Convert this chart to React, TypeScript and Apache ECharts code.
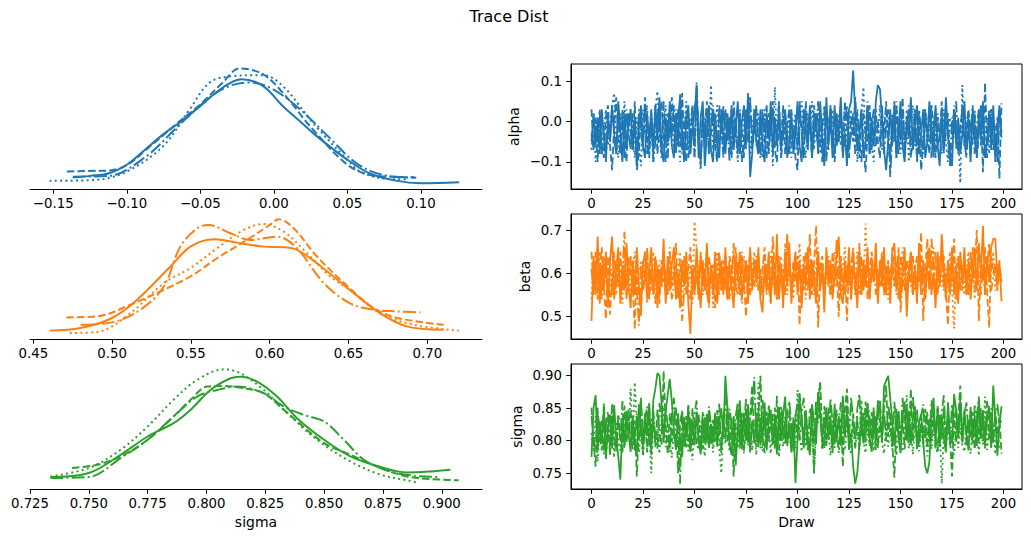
import React, { useEffect, useRef } from "react";
import * as echarts from "echarts";

// ---------- KDE curves: [value, density] ----------
const alphaKde0 = [[-0.1367,0.91],[-0.125,1.05],[-0.112,1.26],[-0.10,1.94],[-0.088,3.1],[-0.0755,4.35],[-0.062,5.5],[-0.05,6.64],[-0.0347,8.12],[-0.0222,8.79],[-0.0075,8.25],[0.006,6.64],[0.016,5.6],[0.0265,4.49],[0.038,3.4],[0.05,2.34],[0.065,1.26],[0.083,0.67],[0.10,0.46],[0.126,0.54]];
const alphaKde1 = [[-0.1407,1.40],[-0.12,1.46],[-0.112,1.48],[-0.10,1.9],[-0.0868,3.15],[-0.064,5.43],[-0.05,6.77],[-0.0347,8.52],[-0.0233,9.65],[-0.0075,9.19],[0.006,7.71],[0.0265,4.76],[0.05,1.94],[0.065,1.13],[0.0786,0.99],[0.0956,0.94]];
const alphaKde2 = [[-0.1525,0.65],[-0.121,0.73],[-0.10,1.40],[-0.0755,3.41],[-0.0573,6.37],[-0.0437,8.52],[-0.030,9.0],[-0.0075,9.11],[0.006,8.25],[0.0265,5.30],[0.05,2.34],[0.0607,1.26],[0.083,0.78],[0.092,0.78]];
const alphaKde3 = [[-0.1367,0.99],[-0.112,1.05],[-0.0868,2.61],[-0.064,5.16],[-0.0437,7.31],[-0.030,8.25],[-0.0165,8.52],[-0.0029,8.12],[0.0152,6.64],[0.0379,4.09],[0.056,2.07],[0.074,1.13],[0.0968,0.91]];

const betaKde0 = [[0.4605,0.67],[0.4799,0.88],[0.50,1.68],[0.5159,3.14],[0.537,5.80],[0.5497,7.39],[0.5645,7.98],[0.5793,7.71],[0.5962,7.39],[0.6089,7.34],[0.6173,7.13],[0.630,6.06],[0.6507,3.94],[0.670,2.07],[0.687,1.01],[0.7104,0.74]];
const betaKde1 = [[0.471,1.73],[0.4905,1.81],[0.5116,2.74],[0.5328,3.94],[0.5497,5.0],[0.5666,6.46],[0.5856,7.93],[0.60,9.12],[0.6057,9.58],[0.6152,8.86],[0.630,6.60],[0.6507,4.07],[0.666,2.47],[0.6808,1.68],[0.7104,1.14]];
const betaKde2 = [[0.4732,0.48],[0.4905,0.56],[0.5116,2.07],[0.5328,4.47],[0.5497,5.67],[0.5666,7.26],[0.5835,8.72],[0.5962,9.20],[0.6089,8.59],[0.6216,7.13],[0.6385,5.0],[0.6507,3.94],[0.670,2.07],[0.6913,1.14],[0.7199,0.67]];
const betaKde3 = [[0.48,1.14],[0.50,1.33],[0.518,2.34],[0.5328,4.20],[0.5433,7.39],[0.554,8.86],[0.5613,9.12],[0.575,8.46],[0.5877,7.93],[0.6047,8.19],[0.6173,7.26],[0.6343,4.47],[0.6507,2.87],[0.666,2.34],[0.6808,2.21],[0.6956,2.13]];

const sigmaKde0 = [[0.7337,1.34],[0.75,1.79],[0.7635,3.83],[0.775,5.88],[0.786,7.37],[0.7932,8.86],[0.8017,11.09],[0.8102,12.40],[0.8144,12.58],[0.8215,12.03],[0.830,10.35],[0.8385,7.93],[0.85,5.51],[0.8612,3.65],[0.874,2.46],[0.8853,1.86],[0.8952,1.97],[0.9037,2.16]];
const sigmaKde1 = [[0.7429,2.35],[0.7536,2.72],[0.7635,3.65],[0.775,5.51],[0.786,8.12],[0.7932,9.98],[0.8003,11.47],[0.8074,11.54],[0.8159,11.28],[0.8244,10.72],[0.8329,8.86],[0.85,5.14],[0.8612,3.83],[0.874,2.35],[0.8853,1.41],[0.8952,1.12],[0.9072,0.97]];
const sigmaKde2 = [[0.7337,1.41],[0.75,2.35],[0.7635,4.39],[0.775,7.0],[0.786,9.98],[0.796,12.21],[0.8074,13.40],[0.8144,12.96],[0.8244,11.09],[0.8329,8.86],[0.847,5.51],[0.8612,3.09],[0.874,1.60],[0.8853,0.97],[0.8902,0.67]];
const sigmaKde3 = [[0.7337,1.23],[0.75,1.34],[0.7635,3.46],[0.775,5.51],[0.786,8.12],[0.796,10.35],[0.8045,11.09],[0.813,11.47],[0.8244,10.72],[0.8329,9.23],[0.8414,8.30],[0.85,7.56],[0.8584,5.51],[0.8669,3.28],[0.8782,1.97],[0.8881,1.49],[0.8987,1.34]];

// ---------- Trace values (draws 0..199) ----------
const alphaChain0 = [
-0.05,0.02,-0.06,0.01,-0.08,0.03,-0.04,-0.09,0.00,-0.05,0.04,-0.03,-0.08,0.05,-0.02,-0.10,0.02,-0.06,-0.01,0.03,
-0.07,0.01,-0.11,-0.02,0.04,-0.06,-0.09,0.02,-0.05,0.03,-0.08,0.04,-0.04,0.06,-0.07,-0.10,0.01,-0.05,0.05,-0.06,
-0.09,0.02,-0.06,0.06,-0.03,-0.10,0.00,0.04,-0.08,-0.02,0.03,0.07,-0.09,0.01,0.05,-0.11,-0.03,0.04,-0.07,-0.10,
0.02,-0.06,-0.09,0.03,-0.04,-0.08,0.02,-0.05,0.04,-0.07,-0.01,0.05,-0.08,0.00,0.04,-0.06,0.07,-0.137,-0.08,0.03,
-0.05,-0.08,0.03,-0.06,-0.10,0.02,-0.04,0.05,-0.08,0.01,-0.06,0.04,-0.07,-0.02,0.03,-0.09,-0.05,0.02,-0.08,-0.03,
0.05,-0.06,-0.10,0.03,-0.02,-0.07,0.04,-0.09,-0.03,0.02,-0.08,0.05,-0.04,-0.11,0.06,-0.05,0.01,-0.09,0.04,-0.06,
-0.02,0.06,-0.08,-0.03,-0.11,0.03,0.05,0.126,0.02,-0.07,-0.03,0.03,-0.09,-0.05,0.04,-0.08,0.01,-0.06,0.05,0.09,
0.08,0.01,-0.07,-0.12,-0.05,0.03,-0.06,0.04,-0.09,-0.02,0.05,-0.06,-0.10,0.01,-0.04,0.06,-0.07,-0.02,0.04,-0.08,
-0.03,0.03,-0.09,-0.05,0.05,-0.02,-0.08,0.04,-0.06,-0.11,0.02,-0.07,0.06,-0.03,-0.09,-0.11,0.03,-0.06,0.01,-0.08,
-0.03,0.05,-0.07,-0.01,-0.10,0.03,-0.05,-0.08,0.02,-0.04,0.05,-0.09,-0.05,0.02,-0.07,0.04,-0.10,-0.02,0.04,-0.03];
const alphaChain1 = [
0.03,-0.07,-0.01,-0.10,0.02,-0.05,-0.09,0.01,0.04,-0.06,-0.12,-0.01,0.06,-0.04,-0.08,0.03,-0.05,-0.10,0.02,-0.03,
-0.07,0.05,-0.12,-0.08,0.02,-0.05,0.06,-0.03,-0.09,0.01,-0.06,0.04,-0.08,-0.01,0.05,-0.05,-0.10,0.02,-0.04,0.06,
-0.02,-0.08,0.03,-0.06,0.07,-0.05,-0.10,0.02,-0.04,0.04,-0.09,0.09,-0.05,-0.11,0.03,-0.02,0.05,-0.08,-0.03,0.02,
-0.06,-0.10,0.04,-0.02,-0.08,0.03,-0.05,0.01,-0.09,0.05,-0.03,-0.07,0.02,-0.10,-0.04,0.03,-0.01,0.06,-0.06,-0.03,
0.04,-0.08,-0.02,0.03,-0.05,-0.09,0.02,-0.03,0.05,-0.07,-0.10,0.01,-0.05,0.04,-0.08,-0.01,0.03,-0.06,-0.02,-0.09,
-0.12,0.05,-0.03,-0.08,0.05,-0.04,0.01,-0.09,0.04,-0.02,-0.06,0.03,-0.10,-0.03,0.02,-0.07,0.04,-0.05,-0.10,0.01,
-0.05,0.03,-0.08,0.05,-0.02,-0.09,0.01,-0.05,0.06,-0.03,-0.09,0.02,-0.06,-0.125,-0.03,0.04,-0.07,-0.01,0.03,-0.05,
-0.09,0.02,-0.03,0.05,-0.06,-0.10,0.01,-0.05,0.04,-0.08,-0.02,0.06,-0.06,-0.03,0.02,-0.09,-0.04,0.03,-0.10,-0.01,
-0.12,-0.06,0.03,-0.03,-0.08,0.04,-0.01,-0.09,0.01,-0.05,0.05,-0.07,-0.02,0.02,-0.11,-0.06,0.03,-0.02,-0.08,-0.03,
0.04,-0.06,-0.01,0.03,-0.08,-0.04,0.02,-0.09,-0.03,0.04,-0.125,0.096,-0.06,-0.01,0.03,-0.07,-0.04,0.01,-0.141,0.045];
const alphaChain2 = [
-0.07,0.02,-0.10,-0.04,0.01,-0.08,-0.02,0.03,-0.06,-0.01,0.04,0.07,-0.05,-0.09,0.02,-0.03,0.05,-0.07,-0.01,0.03,
-0.05,-0.09,0.01,-0.06,-0.11,0.03,-0.03,0.04,-0.08,-0.01,-0.10,0.03,0.075,-0.04,-0.09,0.00,0.04,-0.06,-0.02,0.02,
-0.08,0.03,-0.04,-0.10,0.02,-0.03,0.05,-0.07,-0.01,0.04,-0.09,0.05,-0.03,-0.12,0.02,-0.06,0.03,-0.04,0.09,-0.07,
-0.03,0.04,-0.06,-0.01,-0.09,0.03,-0.04,0.01,-0.08,0.02,-0.03,-0.10,0.03,-0.05,0.01,-0.07,0.04,-0.09,-0.02,0.03,
-0.06,0.02,-0.05,-0.09,0.03,-0.03,-0.08,0.02,-0.11,0.085,-0.04,0.01,-0.08,0.03,-0.03,-0.06,0.04,-0.09,-0.01,0.02,
-0.08,0.03,0.05,-0.05,-0.09,0.02,-0.03,0.05,-0.07,-0.01,0.03,-0.08,-0.04,0.04,-0.10,0.01,-0.03,0.03,-0.08,-0.02,
0.02,-0.06,-0.02,0.04,-0.09,-0.01,0.03,-0.05,0.06,-0.10,-0.03,0.02,0.085,-0.07,-0.04,0.03,-0.06,-0.10,0.01,-0.03,
0.04,-0.07,-0.01,0.03,-0.06,-0.09,0.02,-0.04,0.05,-0.03,-0.08,0.01,-0.05,0.03,-0.10,-0.02,0.04,-0.06,-0.03,0.02,
-0.08,-0.03,0.03,-0.06,-0.01,0.04,-0.09,-0.04,0.02,-0.03,-0.08,0.03,-0.05,-0.10,0.01,-0.03,0.04,-0.07,-0.02,-0.152,
0.09,-0.06,-0.02,0.02,-0.08,-0.04,0.03,-0.09,-0.01,0.04,-0.06,-0.03,0.01,-0.08,0.03,-0.05,-0.01,-0.09,0.02,-0.03];
const alphaChain3 = [
-0.03,-0.07,0.01,-0.05,0.03,-0.08,-0.01,-0.10,0.02,-0.05,0.04,-0.03,-0.08,0.02,-0.06,0.01,-0.09,0.03,-0.03,-0.07,
0.02,-0.05,-0.09,0.03,-0.02,-0.07,0.04,-0.08,-0.03,0.02,-0.10,-0.05,0.03,-0.01,-0.08,0.05,-0.04,-0.09,0.02,-0.03,
0.04,-0.06,-0.01,0.07,-0.08,-0.03,0.03,-0.09,-0.05,0.02,-0.06,0.097,-0.03,-0.10,0.01,-0.05,0.03,-0.08,-0.01,0.04,
-0.05,-0.09,0.02,-0.03,0.04,-0.07,-0.01,-0.10,0.03,-0.05,0.01,-0.08,0.02,-0.03,-0.09,0.03,-0.05,0.05,-0.07,-0.01,
0.03,-0.05,-0.09,0.02,-0.03,0.04,-0.08,-0.01,0.03,-0.06,-0.03,0.05,-0.09,-0.04,0.02,-0.03,-0.08,0.03,-0.05,0.01,
-0.07,0.04,-0.03,-0.09,0.02,-0.05,0.03,-0.08,0.01,-0.03,0.05,-0.06,-0.01,0.03,-0.09,-0.04,0.04,-0.03,-0.08,0.02,
-0.05,0.03,-0.09,-0.01,0.04,-0.07,-0.03,0.02,-0.08,0.03,-0.05,-0.10,0.02,-0.03,0.05,-0.08,-0.01,0.03,-0.06,0.00,
-0.05,0.04,-0.08,-0.01,0.03,-0.137,-0.03,0.05,-0.09,0.01,-0.05,0.03,-0.08,-0.02,0.04,-0.06,-0.03,0.02,-0.09,0.03,
-0.03,-0.08,0.02,-0.05,0.04,-0.09,-0.01,0.03,-0.06,-0.03,0.02,-0.08,0.04,-0.05,-0.10,0.01,-0.03,0.05,-0.07,-0.01,
0.03,-0.05,-0.09,0.02,-0.03,0.04,-0.08,-0.01,0.03,-0.06,0.01,-0.05,-0.09,0.03,-0.03,0.02,-0.06,-0.10,0.01,-0.04];

const betaChain0 = [
0.49,0.64,0.55,0.685,0.53,0.62,0.56,0.65,0.52,0.63,0.685,0.54,0.61,0.66,0.53,0.62,0.56,0.67,0.57,0.52,
0.63,0.55,0.66,0.57,0.52,0.62,0.65,0.54,0.60,0.66,0.55,0.63,0.52,0.61,0.57,0.68,0.53,0.64,0.56,0.62,
0.66,0.54,0.60,0.52,0.63,0.57,0.65,0.53,0.46,0.61,0.55,0.66,0.58,0.52,0.63,0.56,0.67,0.54,0.62,0.55,
0.65,0.53,0.60,0.63,0.55,0.66,0.54,0.62,0.57,0.52,0.64,0.58,0.65,0.54,0.59,0.63,0.53,0.66,0.56,0.63,
0.58,0.66,0.54,0.51,0.62,0.56,0.65,0.53,0.63,0.55,0.69,0.54,0.62,0.52,0.65,0.57,0.67,0.53,0.60,0.65,
0.55,0.63,0.52,0.62,0.57,0.66,0.54,0.63,0.59,0.53,0.65,0.56,0.62,0.51,0.66,0.57,0.63,0.54,0.60,0.64,
0.685,0.55,0.53,0.63,0.57,0.66,0.54,0.62,0.59,0.52,0.65,0.55,0.63,0.57,0.66,0.54,0.62,0.58,0.67,0.53,
0.63,0.57,0.66,0.55,0.62,0.53,0.65,0.67,0.56,0.63,0.54,0.61,0.66,0.50,0.60,0.65,0.55,0.62,0.53,0.67,
0.57,0.63,0.54,0.62,0.66,0.55,0.60,0.52,0.65,0.57,0.69,0.61,0.54,0.63,0.56,0.66,0.55,0.62,0.53,0.65,
0.58,0.66,0.55,0.63,0.54,0.62,0.66,0.56,0.67,0.60,0.71,0.55,0.64,0.58,0.66,0.68,0.68,0.59,0.63,0.535];
const betaChain1 = [
0.65,0.56,0.63,0.54,0.61,0.66,0.57,0.495,0.64,0.505,0.60,0.55,0.63,0.57,0.65,0.56,0.62,0.54,0.64,0.60,
0.57,0.471,0.62,0.55,0.50,0.63,0.58,0.65,0.54,0.61,0.56,0.64,0.60,0.53,0.63,0.58,0.61,0.55,0.65,0.57,
0.60,0.67,0.54,0.63,0.58,0.64,0.55,0.61,0.66,0.56,0.62,0.60,0.54,0.65,0.58,0.61,0.55,0.64,0.60,0.62,
0.52,0.61,0.65,0.56,0.63,0.58,0.54,0.64,0.61,0.56,0.66,0.60,0.55,0.62,0.58,0.50,0.61,0.65,0.57,0.63,
0.58,0.64,0.55,0.61,0.66,0.57,0.63,0.56,0.685,0.60,0.54,0.64,0.58,0.61,0.55,0.68,0.60,0.56,0.63,0.58,
0.64,0.48,0.61,0.56,0.65,0.60,0.69,0.55,0.62,0.71,0.475,0.61,0.64,0.56,0.60,0.63,0.55,0.65,0.58,0.61,
0.50,0.64,0.56,0.61,0.49,0.63,0.58,0.65,0.55,0.61,0.60,0.64,0.56,0.62,0.54,0.61,0.65,0.58,0.63,0.56,
0.61,0.64,0.55,0.60,0.63,0.56,0.66,0.58,0.61,0.54,0.64,0.60,0.56,0.63,0.58,0.65,0.55,0.61,0.64,0.58,
0.695,0.49,0.61,0.68,0.56,0.63,0.58,0.65,0.55,0.61,0.60,0.64,0.56,0.48,0.62,0.58,0.68,0.54,0.61,0.64,
0.56,0.63,0.60,0.55,0.65,0.58,0.61,0.70,0.49,0.63,0.58,0.66,0.56,0.475,0.64,0.60,0.62,0.56,0.61,0.58];
const betaChain2 = [
0.54,0.63,0.57,0.61,0.65,0.55,0.62,0.59,0.54,0.64,0.57,0.61,0.55,0.63,0.60,0.53,0.66,0.57,0.62,0.55,
0.61,0.65,0.54,0.60,0.63,0.56,0.62,0.53,0.61,0.56,0.65,0.59,0.54,0.63,0.57,0.64,0.55,0.61,0.66,0.57,
0.62,0.55,0.61,0.65,0.54,0.60,0.64,0.57,0.62,0.53,0.72,0.66,0.58,0.64,0.55,0.61,0.66,0.57,0.62,0.52,
0.61,0.65,0.55,0.62,0.57,0.64,0.54,0.61,0.59,0.65,0.55,0.63,0.57,0.53,0.64,0.59,0.62,0.55,0.61,0.65,
0.57,0.63,0.54,0.61,0.64,0.55,0.60,0.65,0.57,0.62,0.54,0.61,0.64,0.57,0.67,0.55,0.62,0.59,0.54,0.64,
0.60,0.67,0.56,0.62,0.54,0.65,0.59,0.63,0.55,0.61,0.66,0.57,0.62,0.54,0.60,0.64,0.55,0.61,0.65,0.57,
0.62,0.55,0.61,0.66,0.57,0.63,0.54,0.61,0.59,0.65,0.55,0.62,0.57,0.715,0.60,0.54,0.64,0.58,0.62,0.55,
0.61,0.65,0.57,0.62,0.54,0.61,0.59,0.64,0.55,0.62,0.57,0.66,0.58,0.54,0.63,0.60,0.55,0.62,0.57,0.65,
0.58,0.63,0.54,0.61,0.57,0.62,0.66,0.55,0.60,0.64,0.57,0.62,0.54,0.59,0.65,0.56,0.473,0.61,0.64,0.57,
0.62,0.55,0.61,0.65,0.57,0.63,0.54,0.60,0.66,0.58,0.62,0.55,0.64,0.57,0.61,0.65,0.56,0.62,0.59,0.60];
const betaChain3 = [
0.61,0.55,0.65,0.57,0.62,0.54,0.64,0.59,0.56,0.61,0.55,0.65,0.57,0.62,0.56,0.60,0.696,0.55,0.59,0.64,
0.55,0.61,0.57,0.48,0.62,0.56,0.59,0.66,0.55,0.61,0.57,0.53,0.62,0.56,0.59,0.64,0.55,0.57,0.61,0.54,
0.57,0.62,0.55,0.59,0.49,0.56,0.61,0.57,0.54,0.62,0.56,0.60,0.55,0.64,0.57,0.61,0.56,0.52,0.62,0.57,
0.60,0.55,0.64,0.57,0.61,0.56,0.62,0.54,0.59,0.67,0.57,0.55,0.61,0.65,0.56,0.60,0.62,0.55,0.61,0.57,
0.64,0.56,0.61,0.55,0.59,0.62,0.57,0.53,0.64,0.61,0.56,0.62,0.60,0.55,0.61,0.69,0.64,0.56,0.59,0.62,
0.57,0.61,0.55,0.64,0.60,0.56,0.62,0.57,0.61,0.54,0.64,0.57,0.61,0.56,0.62,0.60,0.55,0.61,0.57,0.68,
0.56,0.61,0.59,0.55,0.62,0.57,0.61,0.66,0.56,0.60,0.67,0.55,0.61,0.57,0.64,0.56,0.59,0.62,0.55,0.61,
0.57,0.64,0.56,0.61,0.60,0.55,0.62,0.57,0.61,0.66,0.51,0.59,0.62,0.55,0.61,0.57,0.64,0.56,0.59,0.62,
0.55,0.61,0.57,0.64,0.56,0.68,0.62,0.55,0.61,0.57,0.66,0.56,0.61,0.59,0.55,0.62,0.57,0.61,0.64,0.56,
0.59,0.62,0.55,0.61,0.57,0.66,0.56,0.61,0.59,0.55,0.62,0.57,0.61,0.67,0.56,0.59,0.62,0.57,0.61,0.59];

const sigmaChain0 = [
0.775,0.851,0.870,0.785,0.830,0.797,0.848,0.772,0.822,0.840,0.788,0.855,0.803,0.776,0.740,0.828,0.795,0.846,0.810,0.783,
0.838,0.800,0.779,0.856,0.812,0.790,0.843,0.808,0.858,0.778,0.862,0.880,0.904,0.900,0.858,0.805,0.845,0.871,0.895,0.860,
0.815,0.786,0.842,0.798,0.775,0.836,0.804,0.852,0.783,0.827,0.793,0.845,0.801,0.779,0.834,0.796,0.841,0.789,0.826,0.805,
0.838,0.791,0.828,0.850,0.806,0.900,0.850,0.795,0.778,0.838,0.762,0.822,0.862,0.787,0.843,0.800,0.856,0.782,0.831,0.797,
0.843,0.790,0.836,0.803,0.859,0.785,0.829,0.848,0.794,0.834,0.779,0.852,0.800,0.840,0.868,0.792,0.827,0.783,0.836,0.735,
0.802,0.862,0.838,0.788,0.847,0.802,0.778,0.856,0.831,0.795,0.875,0.843,0.807,0.789,0.851,0.804,0.839,0.781,0.857,0.799,
0.838,0.792,0.869,0.806,0.845,0.786,0.812,0.760,0.734,0.750,0.792,0.840,0.796,0.833,0.855,0.803,0.783,0.843,0.807,0.862,
0.846,0.797,0.884,0.892,0.900,0.866,0.830,0.792,0.849,0.805,0.781,0.838,0.860,0.800,0.846,0.794,0.834,0.853,0.787,0.829,
0.841,0.799,0.760,0.750,0.768,0.836,0.866,0.802,0.850,0.790,0.838,0.804,0.782,0.859,0.809,0.796,0.872,0.847,0.805,0.856,
0.797,0.845,0.810,0.785,0.852,0.803,0.839,0.792,0.864,0.807,0.847,0.799,0.837,0.853,0.789,0.885,0.834,0.777,0.825,0.853];
const sigmaChain1 = [
0.851,0.798,0.760,0.843,0.808,0.785,0.857,0.800,0.835,0.777,0.849,0.803,0.788,0.839,0.806,0.780,0.854,0.797,0.832,0.846,
0.787,0.831,0.745,0.826,0.866,0.797,0.840,0.782,0.853,0.801,0.837,0.790,0.848,0.808,0.794,0.907,0.825,0.779,0.842,0.798,
0.834,0.853,0.750,0.827,0.846,0.791,0.838,0.802,0.784,0.850,0.807,0.795,0.841,0.800,0.787,0.836,0.804,0.844,0.793,0.832,
0.799,0.847,0.808,0.786,0.839,0.802,0.852,0.791,0.835,0.745,0.827,0.843,0.797,0.832,0.784,0.849,0.800,0.837,0.885,0.806,
0.792,0.840,0.900,0.804,0.781,0.845,0.799,0.833,0.794,0.851,0.806,0.787,0.842,0.802,0.837,0.797,0.846,0.808,0.790,0.839,
0.803,0.875,0.833,0.795,0.844,0.806,0.784,0.840,0.750,0.831,0.848,0.890,0.801,0.837,0.792,0.851,0.807,0.796,0.842,0.804,
0.789,0.834,0.760,0.847,0.880,0.808,0.797,0.842,0.803,0.836,0.786,0.849,0.800,0.860,0.831,0.795,0.844,0.805,0.839,0.791,
0.835,0.802,0.850,0.885,0.807,0.842,0.796,0.743,0.832,0.846,0.801,0.838,0.787,0.854,0.805,0.880,0.798,0.843,0.808,0.794,
0.837,0.803,0.849,0.790,0.833,0.799,0.845,0.806,0.784,0.840,0.802,0.851,0.795,0.834,0.807,0.745,0.842,0.798,0.836,0.885,
0.801,0.847,0.792,0.832,0.804,0.844,0.787,0.838,0.799,0.850,0.806,0.793,0.841,0.803,0.833,0.797,0.846,0.808,0.837,0.780];
const sigmaChain2 = [
0.812,0.783,0.838,0.768,0.826,0.795,0.832,0.779,0.815,0.789,0.823,0.774,0.830,0.798,0.785,0.825,0.792,0.834,0.806,0.880,
0.797,0.890,0.826,0.782,0.815,0.776,0.835,0.789,0.821,0.750,0.828,0.794,0.818,0.780,0.832,0.852,0.790,0.823,0.799,0.774,
0.815,0.787,0.829,0.778,0.821,0.793,0.834,0.784,0.817,0.770,0.825,0.796,0.786,0.830,0.799,0.776,0.824,0.791,0.820,0.782,
0.815,0.829,0.788,0.750,0.821,0.795,0.826,0.783,0.817,0.776,0.823,0.789,0.831,0.798,0.781,0.820,0.793,0.826,0.785,0.818,
0.778,0.889,0.812,0.784,0.824,0.794,0.819,0.780,0.828,0.787,0.815,0.775,0.822,0.791,0.831,0.795,0.818,0.782,0.825,0.788,
0.878,0.811,0.783,0.823,0.791,0.816,0.778,0.829,0.750,0.820,0.872,0.888,0.786,0.825,0.793,0.817,0.777,0.830,0.789,0.819,
0.781,0.824,0.795,0.785,0.827,0.798,0.779,0.822,0.790,0.818,0.787,0.863,0.799,0.781,0.821,0.792,0.826,0.784,0.817,0.789,
0.823,0.796,0.780,0.829,0.791,0.820,0.786,0.816,0.777,0.825,0.794,0.783,0.822,0.870,0.788,0.818,0.779,0.827,0.796,0.784,
0.819,0.790,0.824,0.776,0.815,0.787,0.821,0.792,0.781,0.826,0.734,0.814,0.784,0.823,0.793,0.817,0.778,0.828,0.789,0.820,
0.792,0.783,0.825,0.797,0.780,0.821,0.788,0.816,0.777,0.827,0.794,0.868,0.786,0.818,0.791,0.823,0.779,0.819,0.790,0.786];
const sigmaChain3 = [
0.838,0.805,0.786,0.851,0.798,0.831,0.779,0.825,0.845,0.792,0.856,0.806,0.783,0.838,0.801,0.861,0.789,0.829,0.848,0.796,
0.824,0.785,0.842,0.801,0.860,0.778,0.832,0.853,0.793,0.827,0.846,0.803,0.788,0.858,0.834,0.797,0.850,0.823,0.783,0.841,
0.866,0.800,0.830,0.734,0.847,0.805,0.790,0.855,0.826,0.794,0.839,0.862,0.802,0.785,0.845,0.829,0.797,0.853,0.824,0.791,
0.843,0.804,0.857,0.781,0.832,0.868,0.799,0.849,0.825,0.792,0.838,0.859,0.787,0.844,0.823,0.864,0.796,0.834,0.851,0.898,
0.803,0.847,0.788,0.863,0.828,0.797,0.855,0.823,0.841,0.790,0.869,0.802,0.852,0.832,0.794,0.846,0.861,0.826,0.784,0.839,
0.857,0.800,0.844,0.866,0.822,0.783,0.850,0.833,0.796,0.862,0.827,0.847,0.789,0.853,0.836,0.801,0.865,0.829,0.794,0.848,
0.824,0.859,0.793,0.840,0.854,0.802,0.867,0.831,0.788,0.849,0.872,0.805,0.843,0.797,0.858,0.835,0.803,0.851,0.786,0.834,
0.863,0.809,0.846,0.799,0.855,0.834,0.790,0.860,0.823,0.844,0.801,0.866,0.830,0.851,0.795,0.841,0.869,0.825,0.848,0.791,
0.837,0.856,0.804,0.845,0.798,0.862,0.832,0.788,0.853,0.826,0.843,0.870,0.802,0.839,0.796,0.857,0.829,0.848,0.805,0.865,
0.799,0.842,0.859,0.810,0.846,0.794,0.854,0.835,0.868,0.803,0.844,0.788,0.861,0.832,0.850,0.800,0.841,0.856,0.826,0.831];

// ---------- tick labels ----------
const alphaKdeTicks = [-0.15, -0.10, -0.05, 0.0, 0.05, 0.10];
const betaKdeTicks = [0.45, 0.50, 0.55, 0.60, 0.65, 0.70];
const sigmaKdeTicks = [0.725, 0.75, 0.775, 0.8, 0.825, 0.85, 0.875, 0.9];
const drawTicks = [0, 25, 50, 75, 100, 125, 150, 175, 200];
const alphaTraceTicks = [-0.1, 0.0, 0.1];
const betaTraceTicks = [0.5, 0.6, 0.7];
const sigmaTraceTicks = [0.75, 0.8, 0.85, 0.9];

const COLORS = ["#1f77b4", "#ff7f0e", "#2ca02c"];
const DASHES: any[] = ["solid", [7.4, 3.2], [2, 3.3], [12.8, 3.2, 2, 3.2]];
const FONT = "DejaVu Sans";
const TICK_FS = 13.3;

const fmt = (d: number) => (v: number) => v.toFixed(d).replace("-", "\u2212");

export default function App() {
  const ref = useRef<HTMLDivElement>(null);
  useEffect(() => {
    if (!ref.current) return;
    const chart = echarts.init(ref.current, undefined, { renderer: "svg" });

    const L = { left: 30, width: 452 };
    const R = { left: 571, width: 451 };
    const tops = [64, 214, 364];
    const H = 125;
    const grid: any[] = [];
    tops.forEach((t) => {
      grid.push({ left: L.left, width: L.width, top: t, height: H, show: false });
      grid.push({ left: R.left, width: R.width, top: t, height: H, show: true, borderColor: "#000", borderWidth: 1, backgroundColor: "transparent" });
    });

    const label = (vals: number[], dec: number, margin: number) => ({
      customValues: vals, formatter: fmt(dec), fontFamily: FONT, fontSize: TICK_FS, color: "#000", margin,
    });
    const tick = (vals: number[]) => ({ show: true, customValues: vals, length: 4.7, lineStyle: { color: "#000", width: 1 } });
    const line = { show: true, onZero: false, lineStyle: { color: "#000", width: 1 } };
    const nameStyle = { fontFamily: FONT, fontSize: 14, color: "#000" };

    const kdeX = (gi: number, min: number, max: number, vals: number[], dec: number, name?: string) => ({
      type: "value", gridIndex: gi, min, max, axisLine: line, axisTick: tick(vals), axisLabel: label(vals, dec, 8),
      splitLine: { show: false }, name: name || "", nameLocation: "middle", nameGap: 26, nameTextStyle: nameStyle,
    });
    const traceX = (gi: number, name?: string) => ({
      type: "value", gridIndex: gi, min: -9.95, max: 208.95, axisLine: line, axisTick: tick(drawTicks),
      axisLabel: label(drawTicks, 0, 8), splitLine: { show: false }, name: name || "", nameLocation: "middle", nameGap: 26,
      nameTextStyle: nameStyle,
    });
    const traceY = (gi: number, min: number, max: number, vals: number[], dec: number, name: string, gap: number) => ({
      type: "value", gridIndex: gi, min, max, axisLine: line, axisTick: tick(vals), axisLabel: label(vals, dec, 9),
      splitLine: { show: false }, name, nameLocation: "middle", nameRotate: 90, nameGap: gap, nameTextStyle: nameStyle,
    });
    const hiddenY = (gi: number, max: number) => ({ type: "value", gridIndex: gi, min: 0, max, show: false, splitLine: { show: false } });

    const xAxis = [
      kdeX(0, -0.1658, 0.1415, alphaKdeTicks, 2),
      traceX(1),
      kdeX(2, 0.4479, 0.7347, betaKdeTicks, 2),
      traceX(3),
      kdeX(4, 0.725, 0.9171, sigmaKdeTicks, 3, "sigma"),
      traceX(5, "Draw"),
    ];
    const yAxis = [
      hiddenY(0, 10),
      traceY(1, -0.1667, 0.142, alphaTraceTicks, 1, "alpha", 50),
      hiddenY(2, 10),
      traceY(3, 0.4485, 0.737, betaTraceTicks, 1, "beta", 39),
      hiddenY(4, 14),
      traceY(5, 0.7258, 0.918, sigmaTraceTicks, 2, "sigma", 47),
    ];

    const kdes = [
      [alphaKde0, alphaKde1, alphaKde2, alphaKde3],
      [betaKde0, betaKde1, betaKde2, betaKde3],
      [sigmaKde0, sigmaKde1, sigmaKde2, sigmaKde3],
    ];
    const traces = [
      [alphaChain0, alphaChain1, alphaChain2, alphaChain3],
      [betaChain0, betaChain1, betaChain2, betaChain3],
      [sigmaChain0, sigmaChain1, sigmaChain2, sigmaChain3],
    ];
    const series: any[] = [];
    kdes.forEach((chains, p) => {
      chains.forEach((d, c) => {
        series.push({
          type: "line", xAxisIndex: p * 2, yAxisIndex: p * 2, data: d, smooth: 0.35, showSymbol: false, silent: true,
          lineStyle: { color: COLORS[p], width: 2, type: DASHES[c] },
        });
      });
    });
    traces.forEach((chains, p) => {
      chains.forEach((vals, c) => {
        series.push({
          type: "line", xAxisIndex: p * 2 + 1, yAxisIndex: p * 2 + 1, data: vals.map((v, i) => [i, v]),
          showSymbol: false, silent: true, lineStyle: { color: COLORS[p], width: 1.8, type: DASHES[c] },
        });
      });
    });

    chart.setOption({
      animation: false,
      backgroundColor: "#fff",
      title: { text: "Trace Dist", left: 509, top: 8, padding: 0, textAlign: "center",
        textStyle: { fontFamily: FONT, fontSize: 16, fontWeight: "normal", color: "#000" } },
      grid, xAxis, yAxis, series,
    });
    return () => chart.dispose();
  }, []);
  return <div ref={ref} style={{ position: "absolute", left: 0, top: 0, width: 1031, height: 542 }} />;
}
